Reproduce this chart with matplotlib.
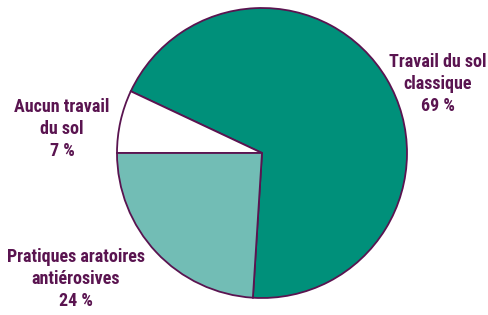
import matplotlib
matplotlib.use("Agg")
import matplotlib.pyplot as plt

labels = ["Travail du sol\nclassique\n69 %", "Aucun travail\ndu sol\n7 %", "Pratiques aratoires\nantiérosives\n24 %"]
values = [69, 7, 24]
colors = ["#00907A", "#FFFFFF", "#72BDB5"]
label_pos = [(438, 84), (62, 129), (76, 279)]

W, H = 489, 315
edge = "#5A1450"

fig = plt.figure(figsize=(W / 100, H / 100), dpi=100)
ax = fig.add_axes([0, 0, 1, 1])

ax.pie(values, colors=colors, startangle=-93.6, counterclock=True,
       center=(262, H - 153), radius=145, frame=True,
       wedgeprops=dict(edgecolor=edge, linewidth=1.3))
ax.set_xlim(0, W)
ax.set_ylim(0, H)
ax.set_aspect("equal")
ax.axis("off")

fams = ["Roboto Condensed", "Liberation Sans Narrow", "DejaVu Sans Condensed", "Lato", "DejaVu Sans"]
for lab, (x, y) in zip(labels, label_pos):
    ax.text(x, H - y, lab, ha="center", va="center", color=edge,
            fontsize=13, family=fams, fontweight="bold", linespacing=1.32)

fig.savefig("out.png", dpi=100)
